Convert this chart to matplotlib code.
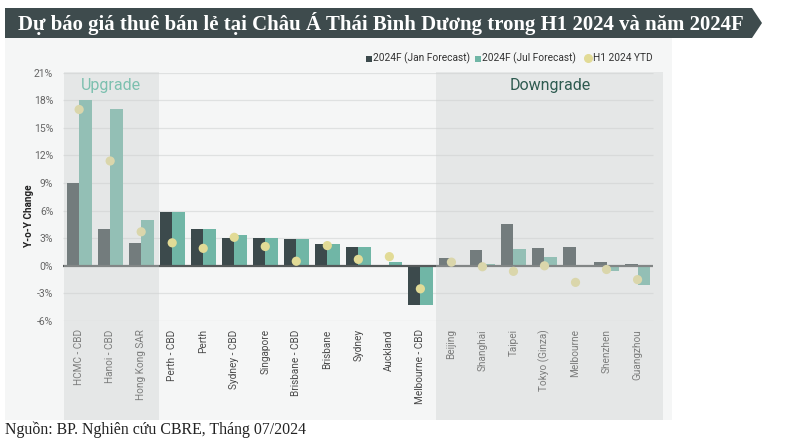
import matplotlib
matplotlib.use("Agg")
import matplotlib.pyplot as plt
from matplotlib.patches import Rectangle, Polygon
from matplotlib.transforms import blended_transform_factory
import numpy as np

categories = ["HCMC - CBD", "Hanoi - CBD", "Hong Kong SAR", "Perth - CBD", "Perth",
              "Sydney - CBD", "Singapore", "Brisbane - CBD", "Brisbane", "Sydney",
              "Auckland", "Melbourne - CBD", "Beijing", "Shanghai", "Taipei",
              "Tokyo (Ginza)", "Melbourne", "Shenzhen", "Guangzhou"]
jan_forecast = [9.0, 4.0, 2.5, 5.9, 4.0, 3.0, 3.0, 2.9, 2.4, 2.0, 0.0, -4.3,
                0.9, 1.7, 4.5, 1.9, 2.0, 0.4, 0.2]
jul_forecast = [18.0, 17.0, 5.0, 5.9, 4.0, 3.4, 3.0, 2.9, 2.4, 2.0, 0.4, -4.3,
                0.1, 0.2, 1.8, 1.0, 0.0, -0.6, -2.1]
h1_ytd = [17.0, 11.4, 3.7, 2.5, 1.9, 3.1, 2.1, 0.5, 2.2, 0.7, 1.0, -2.5,
          0.4, -0.1, -0.6, 0.0, -1.8, -0.4, -1.5]
yticks = [-6, -3, 0, 3, 6, 9, 12, 15, 18, 21]
ytick_labels = ["-6%", "-3%", "0%", "3%", "6%", "9%", "12%", "15%", "18%", "21%"]
legend_labels = ["2024F (Jan Forecast)", "2024F (Jul Forecast)", "H1 2024 YTD"]
title = "Dự báo giá thuê bán lẻ tại Châu Á Thái Bình Dương trong H1 2024 và năm 2024F"
source = "Nguồn: BP. Nghiên cứu CBRE, Tháng 07/2024"

C_JAN = "#3c4a4c"
C_JUL = "#70b6a6"
C_DOT = "#e2db96"
C_PANEL = "#f5f6f6"
C_BANNER = "#3e4b4d"
FONT = ["Roboto", "DejaVu Sans"]
SERIF = ["Liberation Serif", "DejaVu Serif"]

W, H = 789, 443
fig = plt.figure(figsize=(W / 100, H / 100), dpi=100)
fig.patch.set_facecolor("white")

def fx(px):
    return px / W

def fy(py):
    return 1 - py / H

# panel background
fig.patches.append(Rectangle((fx(5), fy(420)), fx(672) - fx(5), fy(38) - fy(420),
                             transform=fig.transFigure, facecolor=C_PANEL,
                             edgecolor="none", zorder=-2))
# title banner with arrow tip
banner = Polygon([(fx(5), fy(8)), (fx(752), fy(8)), (fx(762), fy(23)),
                  (fx(752), fy(38)), (fx(5), fy(38))], closed=True,
                 transform=fig.transFigure, facecolor=C_BANNER, edgecolor="none", zorder=-2)
fig.patches.append(banner)

ax_left, ax_right = 63, 663
ax_top, ax_bot = 72.7, 321
ax = fig.add_axes([fx(ax_left), fy(ax_bot), fx(ax_right) - fx(ax_left), fy(ax_top) - fy(ax_bot)])
ax.set_facecolor("none")
x = np.arange(len(categories))
xmin, xmax = -0.52, 18.82
grid_end = 18.5
ax.set_xlim(xmin, xmax)
ax.set_ylim(-6, 21)

for t in yticks:
    if t != 0:
        ax.hlines(t, xmin, grid_end, color="#dfe1e1", lw=0.9, zorder=1)

bw = 0.40
ax.bar(x - bw / 2, jan_forecast, width=bw, color=C_JAN, zorder=2)
ax.bar(x + bw / 2, jul_forecast, width=bw, color=C_JUL, zorder=2)
ax.hlines(0, xmin, grid_end, color="#555a5a", lw=1.6, zorder=3)
ax.scatter(x, h1_ytd, s=44, color=C_DOT, zorder=4, edgecolors="none")

for s in ax.spines.values():
    s.set_visible(False)
ax.set_yticks(yticks)
ax.set_yticklabels(ytick_labels, fontsize=7.5, color="#666666", family=FONT)
ax.tick_params(axis="y", length=0, pad=7)
ax.set_xticks(x)
ax.set_xticklabels(categories, rotation=90, fontsize=7.2, color="#4a4a4a", family=FONT)
ax.tick_params(axis="x", length=0, pad=6)
ax.set_ylabel("Y-o-Y Change", fontsize=7.2, fontweight="bold", color="#222222",
              family=FONT)
ax.yaxis.set_label_coords((34 - ax_left) / (ax_right - ax_left),
                          (ax_bot - 216) / (ax_bot - ax_top))

# shaded overlays (cover bars and labels)
tr = blended_transform_factory(ax.transData, fig.transFigure)
for a, b in [(-0.5, 2.56), (11.5, 18.82)]:
    ax.add_patch(Rectangle((a, fy(420)), b - a, fy(71.5) - fy(420), transform=tr,
                           facecolor="#cdd0cf", alpha=0.38, edgecolor="none",
                           clip_on=False, zorder=5))

ax.text(1.03, 19.65, "Upgrade", ha="center", va="center", fontsize=11.5,
        color="#7cc0af", family=FONT, zorder=6)
ax.text(15.2, 19.65, "Downgrade", ha="center", va="center", fontsize=11.5,
        color="#2e5b50", family=FONT, zorder=6)

# legend (manual)
ly = fy(58)
fig.patches.append(Rectangle((fx(366), ly - 0.008), fx(6), 6 / H, transform=fig.transFigure,
                             facecolor=C_JAN, edgecolor="none"))
fig.text(fx(373), ly, legend_labels[0], fontsize=7.3, color="#333333", family=FONT, va="center")
fig.patches.append(Rectangle((fx(475), ly - 0.008), fx(6), 6 / H, transform=fig.transFigure,
                             facecolor=C_JUL, edgecolor="none"))
fig.text(fx(482), ly, legend_labels[1], fontsize=7.3, color="#333333", family=FONT, va="center")
fig.add_artist(plt.Line2D([fx(588)], [ly], marker="o", markersize=5.5, color=C_DOT,
                          transform=fig.transFigure, linestyle="none"))
fig.text(fx(593), ly, legend_labels[2], fontsize=7.3, color="#333333", family=FONT, va="center")

# title and source, fitted to widths
renderer = fig.canvas.get_renderer()
t = fig.text(fx(18), fy(23.5), title, fontsize=14, fontweight="bold", color="white",
             family=SERIF, va="center", ha="left")
wpx = t.get_window_extent(renderer).width
t.set_fontsize(14 * 727 / wpx)
s = fig.text(fx(5), fy(430), source, fontsize=10, color="#222222", family=SERIF,
             va="center", ha="left")
wpx = s.get_window_extent(renderer).width
s.set_fontsize(10 * 301 / wpx)

fig.savefig("out.png", dpi=100, facecolor="white")
